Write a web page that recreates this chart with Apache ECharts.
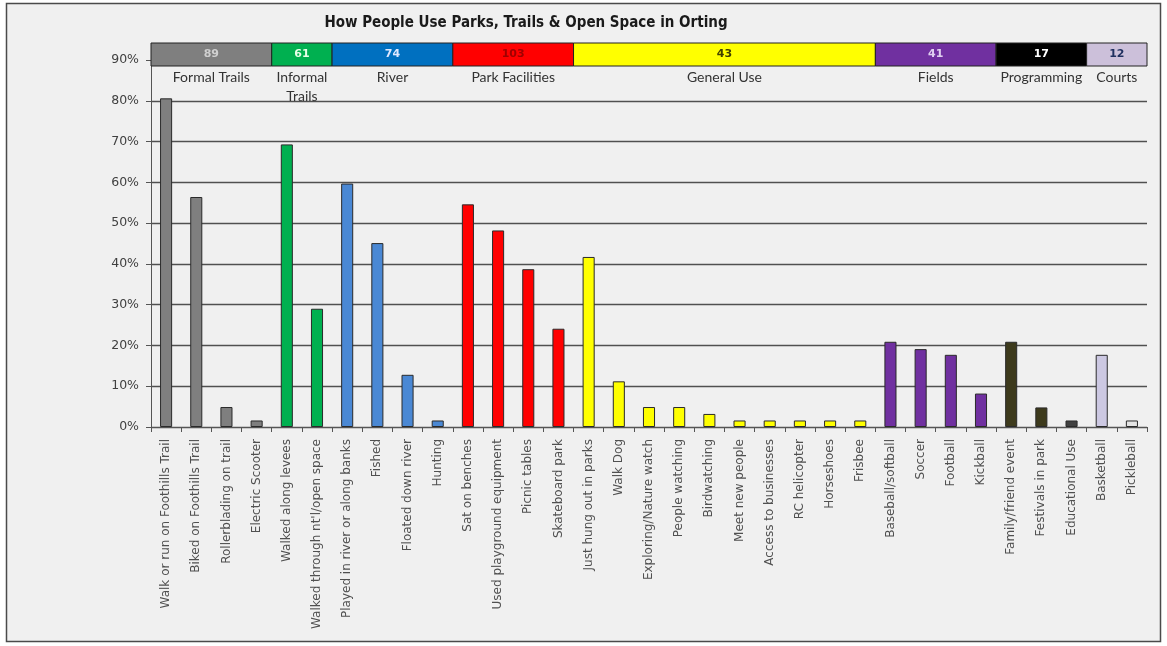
<!DOCTYPE html>
<html>
<head>
<meta charset="utf-8">
<script src="https://cdn.jsdelivr.net/npm/echarts@6/dist/echarts.min.js"></script>
<style>html,body{margin:0;padding:0;background:#fff}#c{width:1167px;height:646px}</style>
</head>
<body>
<div id="c"></div>
<script>
// ---- data ----
const categories = [
  'Walk or run on Foothills Trail','Biked on Foothills Trail','Rollerblading on trail','Electric Scooter',
  'Walked along levees',"Walked through nt'l/open space",
  'Played in river or along banks','Fished','Floated down river','Hunting',
  'Sat on benches','Used playground equipment','Picnic tables','Skateboard park',
  'Just hung out in parks','Walk Dog','Exploring/Nature watch','People watching','Birdwatching',
  'Meet new people','Access to businesses','RC helicopter','Horseshoes','Frisbee',
  'Baseball/softball','Soccer','Football','Kickball',
  'Family/friend event','Festivals in park','Educational Use',
  'Basketball','Pickleball'
];
const values = [
  80.6, 56.4, 4.9, 1.6,
  69.3, 29.0,
  59.7, 45.1, 12.8, 1.6,
  54.6, 48.2, 38.7, 24.1,
  41.7, 11.2, 4.9, 4.9, 3.2, 1.6, 1.6, 1.6, 1.6, 1.6,
  20.9, 19.1, 17.7, 8.2,
  20.9, 4.8, 1.6,
  17.7, 1.6
];
const groupNames = ['Formal Trails','Informal\nTrails','River','Park Facilities','General Use','Fields','Programming','Courts'];
const groupSizes = [4, 2, 4, 4, 10, 4, 3, 2];
const groupTotals = [89, 61, 74, 103, 43, 41, 17, 12];
const yTicks = [0, 10, 20, 30, 40, 50, 60, 70, 80, 90];

// ---- styles ----
const headerFill = ['#7f7f7f','#00b050','#0070c0','#ff0000','#ffff00','#7030a0','#000000','#ccc0da'];
const headerText = ['#d0d0d0','#e8ffe8','#dfe8ff','#a00000','#404000','#e0d0f0','#ffffff','#203060'];
const barFill = ['#7f7f7f','#00b050','#4a88d4','#ff0000','#ffff00','#7030a0','#3d3a1c','#ccc8e2'];
const barOverride = {'Educational Use':'#404040','Pickleball':'#e4e4e4'};

const catGroup = [];
groupSizes.forEach((n, g) => { for (let k = 0; k < n; k++) catGroup.push(g); });
const headerData = [];
let acc = 0;
groupSizes.forEach((n, g) => { headerData.push([acc, acc + n, groupTotals[g], g]); acc += n; });

const chart = echarts.init(document.getElementById('c'));
const GL = 151, GW = 996;
chart.setOption({
  backgroundColor: '#ffffff',
  animation: false,
  graphic: [{
    type: 'rect', z: -10, silent: true,
    shape: { x: 6.5, y: 3.5, width: 1154, height: 638 },
    style: { fill: '#f0f0f0', stroke: '#4a4a4a', lineWidth: 1.5 }
  }],
  title: {
    text: 'How People Use Parks, Trails & Open Space in Orting',
    left: 521, top: 11, textAlign: 'center',
    textStyle: { fontSize: 15, fontWeight: 'bold', color: '#1a1a1a',
      fontFamily: "'Liberation Sans Narrow','DejaVu Sans Condensed',sans-serif" }
  },
  grid: [
    { left: GL, width: GW, top: 60, height: 367 },
    { left: GL, width: GW, top: 43, height: 23 }
  ],
  xAxis: [{
    type: 'category', gridIndex: 0, data: categories,
    axisLine: { lineStyle: { color: '#555', width: 1 } },
    axisTick: { show: true, interval: 0, length: 5, lineStyle: { color: '#555' } },
    axisLabel: { interval: 0, rotate: 90, fontSize: 12, color: '#505050', margin: 12,
      fontFamily: "'DejaVu Sans',Verdana,sans-serif" }
  }, {
    type: 'value', gridIndex: 1, min: 0, max: categories.length, show: false
  }],
  yAxis: [{
    type: 'value', gridIndex: 0, min: 0, max: 90, interval: 10,
    axisLine: { show: true, lineStyle: { color: '#555', width: 1 } },
    axisTick: { show: true, length: 5, lineStyle: { color: '#555' } },
    axisLabel: { formatter: v => yTicks.includes(v) ? v + '%' : '', fontSize: 12.5, color: '#404040', margin: 12,
      fontFamily: "'DejaVu Sans',Verdana,sans-serif" },
    splitLine: { show: true, lineStyle: { color: '#505050', width: 1.3 } }
  }, {
    type: 'value', gridIndex: 1, min: 0, max: 1, show: false
  }],
  series: [{
    type: 'bar', xAxisIndex: 0, yAxisIndex: 0,
    barWidth: '40%',
    data: values.map((v, i) => ({
      value: v,
      itemStyle: { color: barOverride[categories[i]] || barFill[catGroup[i]], borderColor: '#2a2a2a', borderWidth: 1 }
    }))
  }, {
    type: 'custom', xAxisIndex: 1, yAxisIndex: 1, clip: false, z: 5,
    data: headerData,
    renderItem: function (params, api) {
      const g = api.value(3);
      const s = api.coord([api.value(0), 1]);
      const e = api.coord([api.value(1), 0]);
      const cx = (s[0] + e[0]) / 2;
      return {
        type: 'group',
        children: [{
          type: 'rect',
          shape: { x: s[0], y: s[1], width: e[0] - s[0], height: e[1] - s[1] },
          style: { fill: headerFill[g], stroke: '#222', lineWidth: 1 }
        }, {
          type: 'text',
          style: { text: String(api.value(2)), x: cx, y: (s[1] + e[1]) / 2, align: 'center', verticalAlign: 'middle',
            fill: headerText[g], font: "bold 11px 'DejaVu Sans',sans-serif" }
        }, {
          type: 'text',
          style: { text: groupNames[g], x: cx, y: e[1] + 2, align: 'center', verticalAlign: 'top',
            fill: '#333', font: "14px Lato,'Open Sans',sans-serif", lineHeight: 19 }
        }]
      };
    }
  }]
});
</script>
</body>
</html>
